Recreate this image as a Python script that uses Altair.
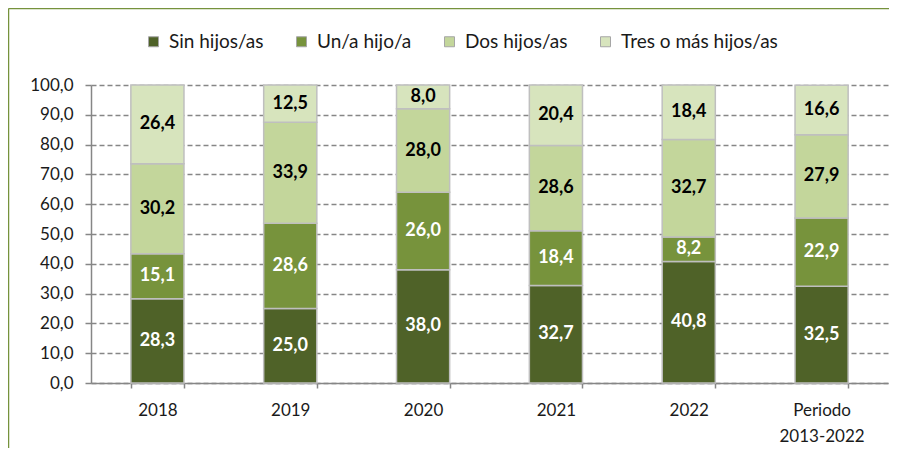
import altair as alt
import pandas as pd

categories = ["2018", "2019", "2020", "2021", "2022", "Periodo 2013-2022"]
series = ["Sin hijos/as", "Un/a hijo/a", "Dos hijos/as", "Tres o más hijos/as"]
sin_hijos = [28.3, 25.0, 38.0, 32.7, 40.8, 32.5]
un_hijo = [15.1, 28.6, 26.0, 18.4, 8.2, 22.9]
dos_hijos = [30.2, 33.9, 28.0, 28.6, 32.7, 27.9]
tres_mas = [26.4, 12.5, 8.0, 20.4, 18.4, 16.6]
colors = ["#4F6228", "#77933C", "#C3D69B", "#D7E4BD"]
y_ticks = [0, 10, 20, 30, 40, 50, 60, 70, 80, 90, 100]

rows = []
for si, (name, vals) in enumerate(zip(series, [sin_hijos, un_hijo, dos_hijos, tres_mas])):
    for c, v in zip(categories, vals):
        rows.append({"cat": c, "serie": name, "value": v, "order": si})
df = pd.DataFrame(rows)

W, H = 797, 298
PL, PT, PR, PB = 83, 77, 1, 65
FONT = "Lato"
GRAY = "#868686"
FRAME = "#76923C"

base = alt.Chart(df).transform_stack(
    stack="value", groupby=["cat"], as_=["v0", "v1"],
    sort=[alt.SortField("order", order="ascending")]
).transform_calculate(
    mid="(datum.v0 + datum.v1) / 2",
    lab="replace(format(datum.value, '.1f'), '.', ',')",
    tc="datum.order < 2 ? 'white' : 'black'"
)

y_scale = alt.Scale(domain=[0, 100], nice=False, clamp=True)
y_axis = alt.Axis(
    values=y_ticks, labelOverlap=False, labelFont=FONT, labelFontSize=17,
    labelColor="#1a1a1a", labelPadding=12,
    labelExpr="replace(format(datum.value, '.1f'), '.', ',')",
    tickSize=6, tickColor=GRAY, tickWidth=1.5,
    domainColor=GRAY, domainWidth=1.5,
    grid=True, gridColor=GRAY, gridDash=[5, 3], gridWidth=1.3,
)

x_enc = alt.X(
    "cat:N", sort=categories, title=None,
    scale=alt.Scale(paddingInner=0.6, paddingOuter=0.3),
    axis=alt.Axis(
        labelAngle=0, labelFont=FONT, labelFontSize=17, labelColor="#1a1a1a",
        labelPadding=14, labelLineHeight=26, labelBaseline="top",
        labelExpr="indexof(datum.label, ' ') > 0 ? split(datum.label, ' ') : datum.label",
        tickBand="extent", tickSize=5, tickColor=GRAY, tickWidth=1.5,
        domainColor=GRAY, domainWidth=1.5, grid=False,
    ),
)

bars = base.mark_bar(stroke="#BFBFBF", strokeWidth=1.5).encode(
    x=x_enc,
    y=alt.Y("v0:Q", title=None, scale=y_scale, axis=y_axis),
    y2="v1:Q",
    color=alt.Color(
        "serie:N", sort=series,
        scale=alt.Scale(domain=series, range=colors),
        legend=alt.Legend(
            title=None, orient="none", direction="horizontal", columns=4,
            legendX=53, legendY=-53,
            symbolType="square", symbolSize=100, symbolStrokeColor="#A6A6A6",
            symbolStrokeWidth=1, symbolOpacity=1,
            labelFont=FONT, labelFontSize=19, labelColor="#1a1a1a",
            labelOffset=6, columnPadding=28, labelLimit=300,
        ),
    ),
    order=alt.Order("order:Q"),
)

texts = base.mark_text(font=FONT, fontSize=18, fontWeight="bold").encode(
    x=alt.X("cat:N", sort=categories, title=None),
    y=alt.Y("mid:Q", title=None, scale=y_scale, axis=y_axis),
    text="lab:N",
    color=alt.Color("tc:N", scale=None),
)

frame_df = pd.DataFrame({"a": [0]})
frame_left = alt.Chart(frame_df).mark_rule(color=FRAME, strokeWidth=1.5).encode(
    x=alt.value(-82.5), y=alt.value(-76.5), y2=alt.value(H + PB)
)
frame_top = alt.Chart(frame_df).mark_rule(color=FRAME, strokeWidth=1.5).encode(
    x=alt.value(-82.5), x2=alt.value(W + PR), y=alt.value(-76.5)
)

chart = alt.layer(bars, texts, frame_left, frame_top).properties(
    width=W, height=H,
    autosize=alt.AutoSizeParams(type="none"),
    padding={"left": PL, "top": PT, "right": PR, "bottom": PB},
    background="white",
).configure_view(stroke=None).configure_axisY(labelOverlap=False)

chart.save("out.html", embed_options={"renderer": "svg", "actions": False})
